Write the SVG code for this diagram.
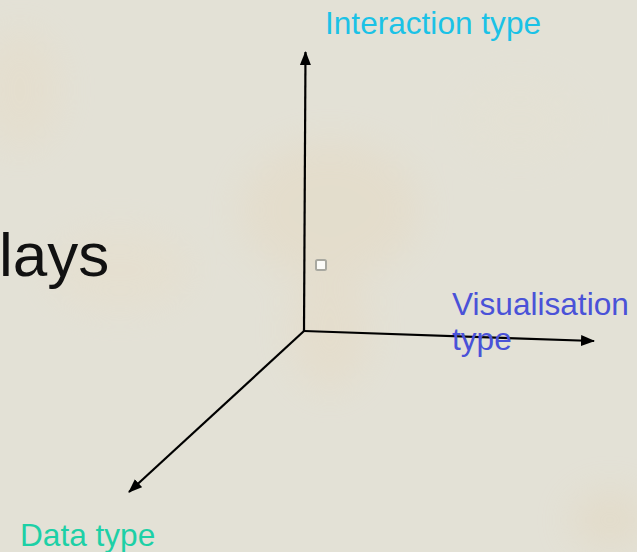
<svg xmlns="http://www.w3.org/2000/svg" width="637" height="552" viewBox="0 0 637 552">
<defs>
<marker id="ah" markerWidth="14" markerHeight="11" refX="13" refY="5.5" orient="auto" markerUnits="userSpaceOnUse">
<path d="M0,0 L14,5.5 L0,11 Z" fill="#000"/>
</marker>
<filter id="blur" x="-50%" y="-50%" width="200%" height="200%"><feGaussianBlur stdDeviation="18"/></filter>
</defs>
<style>
.lbl{font-family:"Liberation Sans",Arial,sans-serif;font-size:31.6px}
.axis{stroke:#000;stroke-width:2.2;fill:none}
</style>
<rect width="637" height="552" fill="#e3e1d6"/>
<g filter="url(#blur)" opacity="0.28">
<ellipse cx="330" cy="210" rx="90" ry="70" fill="#e6d3b4"/>
<ellipse cx="20" cy="90" rx="40" ry="60" fill="#e8d8bc"/>
<ellipse cx="120" cy="270" rx="70" ry="40" fill="#eadcc2"/>
<ellipse cx="330" cy="330" rx="40" ry="60" fill="#e8d4b6"/>
<ellipse cx="610" cy="520" rx="40" ry="30" fill="#e2cfae"/>
<ellipse cx="520" cy="120" rx="60" ry="40" fill="#e6e2d0"/>
</g>
<text x="-1" y="276" font-family="Liberation Sans, Arial, sans-serif" font-size="62" fill="#111">lays</text>
<rect x="316" y="260" width="10" height="10" fill="#fbfbf8" stroke="#a8a8a0" stroke-width="2" rx="1.5"/>
<g id="connectors">
<line class="axis" x1="304" y1="331" x2="305.5" y2="52" marker-end="url(#ah)"/>
<line class="axis" x1="304" y1="331" x2="594" y2="341" marker-end="url(#ah)"/>
<line class="axis" x1="304" y1="331" x2="129" y2="492" marker-end="url(#ah)"/>
</g>
<g id="interaction">
<text class="lbl" x="325" y="34" fill="#1bc2e6">Interaction type</text>
</g>
<g id="visualisation">
<text class="lbl" x="452" y="315" fill="#4a52d8">Visualisation</text>
<text class="lbl" x="452" y="350" fill="#4a52d8">type</text>
</g>
<g id="data">
<text class="lbl" x="20" y="546" fill="#1dd0a6">Data type</text>
</g>
</svg>
